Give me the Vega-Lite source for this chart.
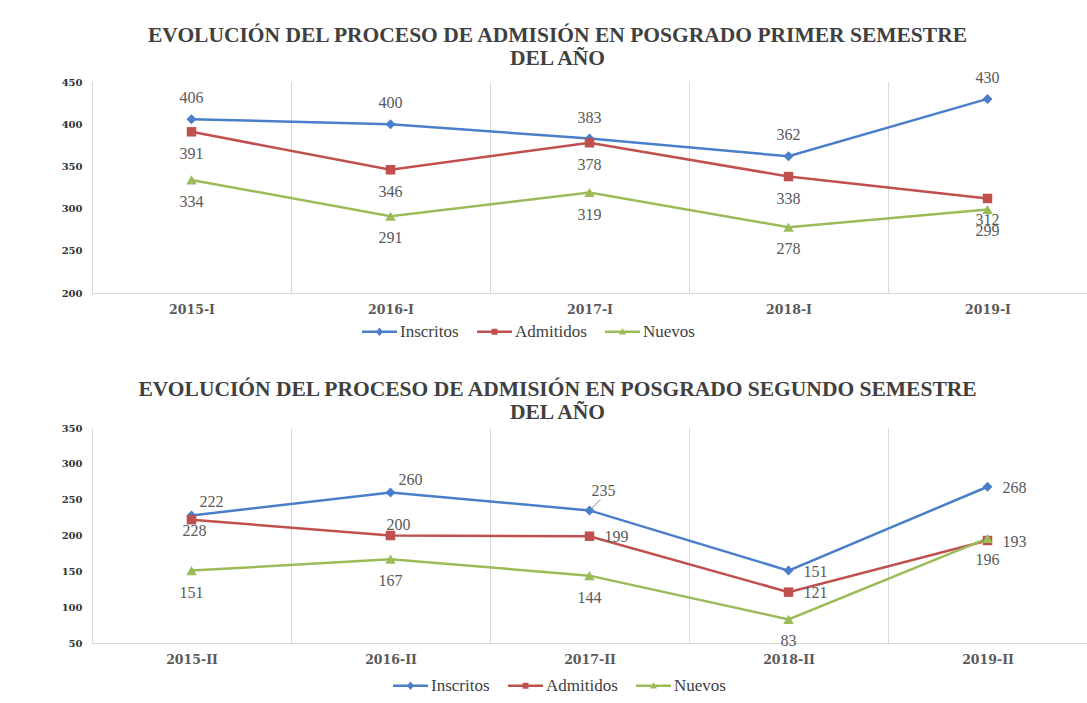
{
  "$schema": "https://vega.github.io/schema/vega-lite/v6.json",
  "background": "white",
  "padding": {"left": 61, "top": 25, "right": 0, "bottom": 0},
  "spacing": 38,
  "config": {
    "view": {"stroke": null},
    "title": {"font": "Liberation Serif", "fontWeight": "bold", "fontSize": 21.5, "color": "#404040", "lineHeight": 23, "anchor": "middle"},
    "axisX": {"title": null, "labelAngle": 0, "ticks": false, "grid": true, "gridColor": "#d9d9d9", "domainColor": "#d9d9d9", "tickBand": "extent", "labelFont": "DejaVu Serif", "labelFontWeight": "bold", "labelFontSize": 12.5, "labelColor": "#595959", "labelPadding": 10},
    "axisY": {"title": null, "grid": false, "ticks": false, "domainColor": "#d9d9d9", "labelFont": "DejaVu Serif", "labelFontWeight": "bold", "labelFontSize": 10, "labelColor": "#333333", "labelPadding": 10},
    "legend": {"labelFont": "Liberation Serif", "labelFontSize": 17, "labelColor": "#404040"}
  },
  "datasets": {
    "primer": [
      {"periodo": "2015-I", "serie": "Inscritos", "valor": 406, "etiqueta": "406"},
      {"periodo": "2016-I", "serie": "Inscritos", "valor": 400, "etiqueta": "400"},
      {"periodo": "2017-I", "serie": "Inscritos", "valor": 383, "etiqueta": "383"},
      {"periodo": "2018-I", "serie": "Inscritos", "valor": 362, "etiqueta": "362"},
      {"periodo": "2019-I", "serie": "Inscritos", "valor": 430, "etiqueta": "430"},
      {"periodo": "2015-I", "serie": "Admitidos", "valor": 391, "etiqueta": "391"},
      {"periodo": "2016-I", "serie": "Admitidos", "valor": 346, "etiqueta": "346"},
      {"periodo": "2017-I", "serie": "Admitidos", "valor": 378, "etiqueta": "378"},
      {"periodo": "2018-I", "serie": "Admitidos", "valor": 338, "etiqueta": "338"},
      {"periodo": "2019-I", "serie": "Admitidos", "valor": 312, "etiqueta": "312"},
      {"periodo": "2015-I", "serie": "Nuevos", "valor": 334, "etiqueta": "334"},
      {"periodo": "2016-I", "serie": "Nuevos", "valor": 291, "etiqueta": "291"},
      {"periodo": "2017-I", "serie": "Nuevos", "valor": 319, "etiqueta": "319"},
      {"periodo": "2018-I", "serie": "Nuevos", "valor": 278, "etiqueta": "278"},
      {"periodo": "2019-I", "serie": "Nuevos", "valor": 299, "etiqueta": "299"}
    ],
    "segundo": [
      {"periodo": "2015-II", "serie": "Inscritos", "valor": 228, "etiqueta": "222"},
      {"periodo": "2016-II", "serie": "Inscritos", "valor": 260, "etiqueta": "260"},
      {"periodo": "2017-II", "serie": "Inscritos", "valor": 235, "etiqueta": "235"},
      {"periodo": "2018-II", "serie": "Inscritos", "valor": 151, "etiqueta": "151"},
      {"periodo": "2019-II", "serie": "Inscritos", "valor": 268, "etiqueta": "268"},
      {"periodo": "2015-II", "serie": "Admitidos", "valor": 222, "etiqueta": "228"},
      {"periodo": "2016-II", "serie": "Admitidos", "valor": 200, "etiqueta": "200"},
      {"periodo": "2017-II", "serie": "Admitidos", "valor": 199, "etiqueta": "199"},
      {"periodo": "2018-II", "serie": "Admitidos", "valor": 121, "etiqueta": "121"},
      {"periodo": "2019-II", "serie": "Admitidos", "valor": 193, "etiqueta": "193"},
      {"periodo": "2015-II", "serie": "Nuevos", "valor": 151, "etiqueta": "151"},
      {"periodo": "2016-II", "serie": "Nuevos", "valor": 167, "etiqueta": "167"},
      {"periodo": "2017-II", "serie": "Nuevos", "valor": 144, "etiqueta": "144"},
      {"periodo": "2018-II", "serie": "Nuevos", "valor": 83, "etiqueta": "83"},
      {"periodo": "2019-II", "serie": "Nuevos", "valor": 196, "etiqueta": "196"}
    ]
  },
  "resolve": {"scale": {"color": "independent", "shape": "independent", "x": "independent", "y": "independent"}, "legend": {"color": "independent", "shape": "independent"}},
  "vconcat": [
    {
      "width": 995,
      "height": 211,
      "title": {"text": ["EVOLUCIÓN DEL PROCESO DE ADMISIÓN EN POSGRADO PRIMER SEMESTRE", "DEL AÑO"], "frame": "group", "offset": 0, "dx": -32},
      "data": {"name": "primer"},
      "encoding": {
        "x": {"field": "periodo", "type": "ordinal", "sort": null, "bandPosition": 0.5, "scale": {"type": "band", "paddingInner": 0, "paddingOuter": 0}},
        "y": {"field": "valor", "type": "quantitative", "scale": {"domain": [200, 450], "nice": false, "zero": false}, "axis": {"values": [200, 250, 300, 350, 400, 450]}},
        "color": {"field": "serie", "type": "nominal", "scale": {"domain": ["Inscritos", "Admitidos", "Nuevos"], "range": ["#4A7EC8", "#C0504D", "#9BBB59"]},
          "legend": {"orient": "none", "legendX": 270, "legendY": 232, "direction": "horizontal", "title": null, "columnPadding": 18, "labelOffset": 3, "symbolSize": 1225, "symbolStrokeWidth": 0, "symbolOpacity": 1}}
      },
      "layer": [
        {
          "mark": {"type": "line", "strokeWidth": 2.5}
        },
        {
          "mark": {"type": "point", "filled": true, "size": 0, "opacity": 1},
          "encoding": {
            "shape": {"field": "serie", "type": "nominal", "scale": {"domain": ["Inscritos", "Admitidos", "Nuevos"], "range": [
              "M-1,-0.07L1,-0.07L1,0.07L-1,0.07Z M0,-0.24L0.2,0L0,0.24L-0.2,0Z",
              "M-1,-0.07L1,-0.07L1,0.07L-1,0.07Z M-0.17,-0.17L0.17,-0.17L0.17,0.17L-0.17,0.17Z",
              "M-1,-0.07L1,-0.07L1,0.07L-1,0.07Z M0,-0.22L0.2,0.15L-0.2,0.15Z"]},
              "legend": {"orient": "none", "legendX": 270, "legendY": 232, "direction": "horizontal", "title": null, "columnPadding": 18, "labelOffset": 3, "symbolSize": 1225, "symbolStrokeWidth": 0, "symbolOpacity": 1}}
          }
        },
        {
          "transform": [{"filter": "datum.serie === 'Inscritos'"}],
          "mark": {"type": "point", "filled": true, "size": 100, "opacity": 1, "shape": "diamond"}
        },
        {
          "transform": [{"filter": "datum.serie === 'Admitidos'"}],
          "mark": {"type": "point", "filled": true, "size": 90, "opacity": 1, "shape": "square"}
        },
        {
          "transform": [{"filter": "datum.serie === 'Nuevos'"}],
          "mark": {"type": "point", "filled": true, "size": 110, "opacity": 1, "shape": "triangle-up"}
        },
        {
          "transform": [{"filter": "datum.serie === 'Inscritos'"}],
          "mark": {"type": "text", "dy": -21, "font": "Liberation Serif", "fontSize": 16},
          "encoding": {"text": {"field": "etiqueta"}, "color": {"value": "#595959"}}
        },
        {
          "transform": [{"filter": "datum.serie !== 'Inscritos'"}],
          "mark": {"type": "text", "dy": 22, "font": "Liberation Serif", "fontSize": 16},
          "encoding": {"text": {"field": "etiqueta"}, "color": {"value": "#595959"}}
        }
      ]
    },
    {
      "width": 995,
      "height": 215,
      "title": {"text": ["EVOLUCIÓN DEL PROCESO DE ADMISIÓN EN POSGRADO SEGUNDO SEMESTRE", "DEL AÑO"], "frame": "group", "offset": 0, "dx": -32},
      "data": {"name": "segundo"},
      "encoding": {
        "x": {"field": "periodo", "type": "ordinal", "sort": null, "bandPosition": 0.5, "scale": {"type": "band", "paddingInner": 0, "paddingOuter": 0}},
        "y": {"field": "valor", "type": "quantitative", "scale": {"domain": [50, 350], "nice": false, "zero": false}, "axis": {"values": [50, 100, 150, 200, 250, 300, 350]}},
        "color": {"field": "serie", "type": "nominal", "scale": {"domain": ["Inscritos", "Admitidos", "Nuevos"], "range": ["#4A7EC8", "#C0504D", "#9BBB59"]},
          "legend": {"orient": "none", "legendX": 301, "legendY": 240, "direction": "horizontal", "title": null, "columnPadding": 18, "labelOffset": 3, "symbolSize": 1225, "symbolStrokeWidth": 0, "symbolOpacity": 1}}
      },
      "layer": [
        {
          "mark": {"type": "line", "strokeWidth": 2.5}
        },
        {
          "mark": {"type": "point", "filled": true, "size": 0, "opacity": 1},
          "encoding": {
            "shape": {"field": "serie", "type": "nominal", "scale": {"domain": ["Inscritos", "Admitidos", "Nuevos"], "range": [
              "M-1,-0.07L1,-0.07L1,0.07L-1,0.07Z M0,-0.24L0.2,0L0,0.24L-0.2,0Z",
              "M-1,-0.07L1,-0.07L1,0.07L-1,0.07Z M-0.17,-0.17L0.17,-0.17L0.17,0.17L-0.17,0.17Z",
              "M-1,-0.07L1,-0.07L1,0.07L-1,0.07Z M0,-0.22L0.2,0.15L-0.2,0.15Z"]},
              "legend": {"orient": "none", "legendX": 301, "legendY": 240, "direction": "horizontal", "title": null, "columnPadding": 18, "labelOffset": 3, "symbolSize": 1225, "symbolStrokeWidth": 0, "symbolOpacity": 1}}
          }
        },
        {
          "transform": [{"filter": "datum.serie === 'Inscritos'"}],
          "mark": {"type": "point", "filled": true, "size": 100, "opacity": 1, "shape": "diamond"}
        },
        {
          "transform": [{"filter": "datum.serie === 'Admitidos'"}],
          "mark": {"type": "point", "filled": true, "size": 90, "opacity": 1, "shape": "square"}
        },
        {
          "transform": [{"filter": "datum.serie === 'Nuevos'"}],
          "mark": {"type": "point", "filled": true, "size": 110, "opacity": 1, "shape": "triangle-up"}
        },
        {
          "transform": [{"filter": "indexof(['2015-II|Inscritos', '2016-II|Inscritos'], datum.periodo + '|' + datum.serie) >= 0"}],
          "mark": {"type": "text", "dx": 20, "dy": -13, "font": "Liberation Serif", "fontSize": 16},
          "encoding": {"text": {"field": "etiqueta"}, "color": {"value": "#595959"}}
        },
        {
          "transform": [{"filter": "datum.periodo === '2016-II' && datum.serie === 'Admitidos'"}],
          "mark": {"type": "text", "dx": 8, "dy": -11, "font": "Liberation Serif", "fontSize": 16},
          "encoding": {"text": {"field": "etiqueta"}, "color": {"value": "#595959"}}
        },
        {
          "transform": [{"filter": "datum.serie === 'Nuevos'"}],
          "mark": {"type": "text", "dy": 22, "font": "Liberation Serif", "fontSize": 16},
          "encoding": {"text": {"field": "etiqueta"}, "color": {"value": "#595959"}}
        },
        {
          "transform": [{"filter": "datum.periodo === '2015-II' && datum.serie === 'Admitidos'"}],
          "mark": {"type": "text", "dx": 3, "dy": 11, "font": "Liberation Serif", "fontSize": 16},
          "encoding": {"text": {"field": "etiqueta"}, "color": {"value": "#595959"}}
        },
        {
          "transform": [{"filter": "indexof(['2017-II|Admitidos', '2018-II|Inscritos', '2018-II|Admitidos', '2019-II|Inscritos', '2019-II|Admitidos'], datum.periodo + '|' + datum.serie) >= 0"}],
          "mark": {"type": "text", "dx": 27, "dy": 1, "font": "Liberation Serif", "fontSize": 16},
          "encoding": {"text": {"field": "etiqueta"}, "color": {"value": "#595959"}}
        },
        {
          "transform": [{"filter": "datum.periodo === '2017-II' && datum.serie === 'Inscritos'"}],
          "mark": {"type": "text", "dx": 14, "dy": -19, "font": "Liberation Serif", "fontSize": 16},
          "encoding": {"text": {"field": "etiqueta"}, "color": {"value": "#595959"}}
        },
        {
          "transform": [{"filter": "datum.periodo === '2017-II' && datum.serie === 'Inscritos'"}],
          "mark": {"type": "point", "shape": "M0.1,-0.1L1,-1", "size": 484, "filled": false, "strokeWidth": 1, "opacity": 1},
          "encoding": {"color": {"value": "#8c8c8c"}}
        }
      ]
    }
  ]
}
